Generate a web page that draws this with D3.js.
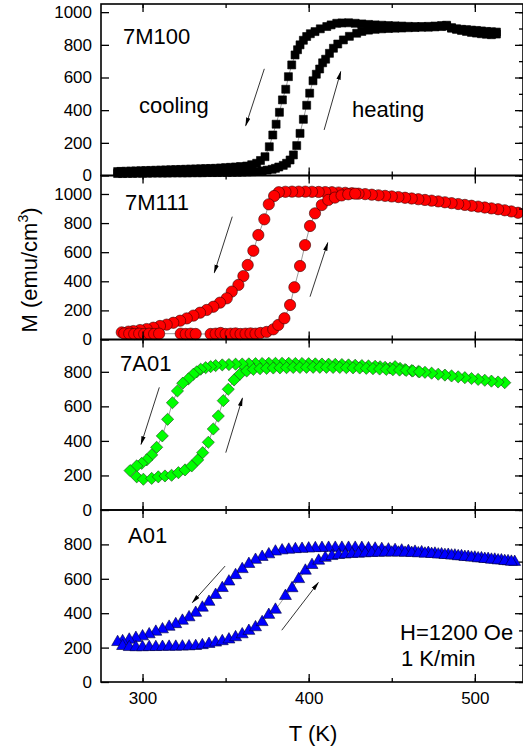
<!DOCTYPE html>
<html>
<head>
<meta charset="utf-8">
<script src="https://cdn.jsdelivr.net/npm/d3@7"></script>
<style>
  body { margin: 0; background: #fff; }
  text { font-family: "Liberation Sans", Arial, sans-serif; fill: #000; }
</style>
</head>
<body>
<div id="viz"></div>
<script>
const width = 523;
const height = 747;

const xTicks = [300, 400, 500];
const xMinor = [300, 350, 400, 450, 500];

// --- 7M100 (T in K, M in emu/cm3) ---
const m100Heat = [[285,12],[288,12],[291,13],[294,13],[297,14],[300,14],[303,14],[306,15],[309,15],[312,15],[315,15],[318,16],[321,16],[324,16],[327,16],[330,17],[333,17],[336,17],[339,18],[342,18],[345,18],[348,19],[351,19],[354,20],[357,20],[360,21],[363,22],[366,23],[369,25],[372,28],[375,33],[378,38],[380,44],[382,52],[384.7,62],[386.7,75],[388.8,95],[390.8,126],[392.8,183],[394.8,258],[396.8,344],[398.8,430],[400.6,504],[402.6,580],[404.6,620],[406.6,652],[408.4,690],[410.2,712],[412.5,748],[414.9,779],[417.5,805],[420.9,830],[424.5,852],[428.9,871],[432,882],[436,890],[440,895],[444,898],[448,900],[452,902],[456,903],[460,905],[464,906],[468,908],[472,908],[476,910],[480,912],[483,915],[486,905],[489,895],[492,888],[495,882],[498,876],[501,872],[504,868],[507,865],[510,862],[513,866]];
const m100Cool = [[513,878],[510,880],[507,882],[504,885],[501,888],[498,890],[495,893],[492,895],[489,898],[486,902],[483,920],[480,918],[476,915],[472,913],[468,912],[464,912],[460,913],[456,915],[452,916],[448,918],[444,920],[440,922],[436,925],[432,928],[428,932],[424,935],[420,934],[416.9,932],[413.5,922],[410.9,912],[407,898],[403.8,881],[401,868],[398.8,851],[396.8,828],[394.8,800],[393.3,770],[391.8,738],[389.8,677],[387.8,605],[386.2,528],[384.2,463],[382.4,387],[380.4,314],[378.4,248],[376.3,176],[373.7,115],[371,92],[368.7,75],[365.7,66],[362.7,58],[359,55],[356,52],[353,50],[350,48],[347,46],[344,44],[341,43],[338,42],[335,41],[332,40],[329,39],[326,38],[323,37],[320,36],[317,35],[314,34],[311,33],[308,32],[305,31],[302,30],[299,29],[296,28],[293,27],[290,26],[287,25],[285,24]];

// --- 7M111 ---
const m111Cool = [[526,871],[522,880],[518,888],[514,895],[510,901],[506,907],[502,913],[498,919],[494,925],[490,931],[486,937],[482,943],[478,949],[474,954],[470,959],[466,964],[462,969],[458,974],[454,979],[450,983],[446,987],[442,991],[438,995],[434,999],[430,1002],[426,1005],[422,1008],[418,1010],[414,1012],[410,1013],[406,1014],[402,1015],[398,1016],[394,1016],[390,1016],[386,1015],[382,1012],[379.2,986],[376,929],[373.3,826],[369.7,718],[366.7,610],[363.3,512],[360.7,436],[357.7,375],[353.7,329],[350.7,283],[346.6,253],[342.6,225],[338.6,203],[334.6,184],[330.6,164],[326.6,145],[322.6,129],[318.5,115],[314.5,102],[310.5,93],[306.5,81],[302.5,72],[298.5,65],[294.5,58],[291.5,54],[287.5,49]];
const m111Heat = [[289,42],[292,40],[295,38],[298,40],[301,38],[304,40],[307,38],[310,40],[323,40],[326,38],[329,40],[332,38],[341,38],[344,40],[347,45],[350,38],[353,40],[356,42],[359,38],[362,40],[365,42],[368,40],[371,45],[374.7,52],[378.7,70],[381.7,100],[385.4,146],[388.8,237],[391.4,359],[394.8,505],[397.8,649],[400.8,780],[403.8,867],[407.9,924],[411.8,959],[415.8,975],[419.8,990],[423.8,998],[428,1002]];

// --- 7A01 ---
const a701Cool = [[518,737],[514,741],[510,746],[506,751],[502,756],[498,761],[494,766],[490,771],[486,776],[482,781],[478,786],[474,792],[470,797],[466,802],[462,807],[458,813],[455,820],[452,830],[449,822],[446,826],[443,829],[440,832],[436,834],[432,836],[428,838],[424,840],[420,842],[416,843],[412,844],[408,845],[404,846],[400,847],[396,848],[392,848],[388,849],[384,849],[380,849],[376,849],[372,848],[368,847],[364,846],[360,845],[356,844],[352,842],[348,840],[344,836],[341,830],[338,824],[335,815],[332.6,800],[330.6,786],[327.6,759],[324.2,734],[321,689],[318,621],[315.1,525],[311.9,429],[308.5,363],[305.5,319],[302.5,290],[299.5,270],[296.5,255],[292.5,228]];
const a701Heat = [[296.5,192],[300.5,178],[305.5,183],[309.5,192],[313.5,197],[317.5,201],[321.6,216],[325.6,232],[329.6,255],[333.2,290],[336.2,332],[339.6,392],[342.6,469],[345.6,544],[348.6,633],[351.6,699],[355.1,753],[358.7,787],[362.7,805],[366.7,814],[370.7,818],[374.7,820],[378.7,822],[382.7,823],[386.7,824],[390.7,825],[394.7,825],[398.7,826],[402.7,826],[406.7,826],[410.7,826],[414.7,825],[418.7,825],[422.7,824],[426.7,823],[430.7,822],[434.7,820],[438.7,818],[442.7,816],[446.7,814],[450.7,812],[454.7,810],[458.7,808],[462.7,805],[466.7,800]];

// --- A01 ---
const a01Cool = [[524,698],[520,702],[516,707],[512,711],[508,715],[504,719],[500,723],[496,727],[492,731],[488,735],[484,739],[480,742],[476,746],[472,750],[468,754],[464,757],[460,761],[456,764],[452,767],[448,770],[444,773],[440,775],[436,777],[432,779],[428,780],[424,780],[420,780],[416,780],[412,780],[408,779],[404,778],[400,776],[396,774],[392,772],[388,769],[384,765],[380,758],[376,742],[372,727],[368,710],[364,686],[360,656],[356,621],[352,584],[348,546],[344,506],[340,466],[336,432],[332,402],[328,376],[324,356],[320,336],[316,321],[312,306],[308,292],[304,277],[300,265],[296,256],[292,246],[288,237],[285,232]];
const a01Heat = [[288,209],[292,203],[296,202],[300,202],[304,203],[308,203],[312,204],[316,205],[320,205],[324,206],[328,207],[332,209],[336,214],[340,221],[344,229],[348,237],[352,247],[356,260],[360,277],[364,297],[368,318],[372,348],[376,390],[380,420],[386,500],[390,545],[394,598],[398,647],[402,680],[406,705],[410,722],[414,732],[418,738],[422,741],[426,744],[430,746],[434,748],[438,750],[442,751],[446,752],[450,752],[454,752],[458,751],[462,750],[466,748],[470,746],[474,744],[478,741],[482,738],[486,735],[490,731],[494,727],[498,723],[502,719],[506,715],[510,711],[514,707],[518,703],[522,699]];

// arrows [T1, M1, T2, M2], head at the second point
const m100Arrows = [[373.3,653,362.1,305],[409.3,279,419.3,636]];
const m111Arrows = [[354.0,844,343.2,459],[400.8,294,411.5,665]];
const a701Arrows = [[310.1,710,299.1,380],[350.1,332,360.1,647]];
const a01Arrows = [[349.7,674,330.0,462],[383.8,301,405.8,578]];

const panels = [
  { name: '7M100', top: 4, bottom: 175.5, max: 1050, yTicks: [0,200,400,600,800,1000], series: [m100Cool, m100Heat], arrows: m100Arrows,
    symbol: d3.symbolSquare, size: 64, fill: '#000', stroke: '#000', rotate: 0, label: [123, 44] },
  { name: '7M111', top: 175.5, bottom: 339.5, max: 1127, yTicks: [0,200,400,600,800,1000], series: [m111Cool, m111Heat], arrows: m111Arrows,
    symbol: d3.symbolCircle, size: 100, fill: '#ff0000', stroke: '#3a0000', rotate: 0, label: [125, 210] },
  { name: '7A01', top: 339.5, bottom: 510, max: 987, yTicks: [0,200,400,600,800], series: [a701Cool, a701Heat], arrows: a701Arrows,
    symbol: d3.symbolSquare, size: 74, fill: '#00ff00', stroke: '#1c4a1c', rotate: 45, label: [120, 371] },
  { name: 'A01', top: 510, bottom: 682, max: 1000, yTicks: [0,200,400,600,800], series: [a01Cool, a01Heat], arrows: a01Arrows,
    symbol: d3.symbolTriangle, size: 62, fill: '#0000ff', stroke: '#00003a', rotate: 0, label: [128, 543] },
];

const x = d3.scaleLinear().domain([275, 529]).range([101, 523]);

const svg = d3.select('#viz')
  .append('svg')
    .attr('width', width)
    .attr('height', height)
    .attr('viewBox', [0, 0, width, height]);

svg.append('defs').append('marker')
    .attr('id', 'head')
    .attr('viewBox', '0 0 10 10')
    .attr('refX', 9).attr('refY', 5)
    .attr('markerWidth', 9).attr('markerHeight', 9)
    .attr('markerUnits', 'userSpaceOnUse')
    .attr('orient', 'auto')
  .append('path')
    .attr('d', 'M0,2.6 L10,5 L0,7.4 Z')
    .attr('fill', '#000');

panels.forEach(p => {
  const y = d3.scaleLinear().domain([0, p.max]).range([p.bottom, p.top]);
  const g = svg.append('g').attr('class', 'panel');

  // thin connecting lines
  const line = d3.line().x(d => x(d[0])).y(d => y(d[1]));
  g.append('g').selectAll('path')
    .data(p.series)
    .join('path')
      .attr('d', line)
      .attr('fill', 'none')
      .attr('stroke', '#555')
      .attr('stroke-width', 0.6);

  // markers
  const sym = d3.symbol(p.symbol, p.size);
  p.series.forEach(s => {
    g.append('g').selectAll('path')
      .data(s)
      .join('path')
        .attr('d', sym)
        .attr('transform', d => `translate(${x(d[0])},${y(d[1])}) rotate(${p.rotate})`)
        .attr('fill', p.fill)
        .attr('stroke', p.stroke)
        .attr('stroke-width', 0.6);
  });

  // arrows
  g.append('g').selectAll('line')
    .data(p.arrows)
    .join('line')
      .attr('x1', d => x(d[0])).attr('y1', d => y(d[1]))
      .attr('x2', d => x(d[2])).attr('y2', d => y(d[3]))
      .attr('stroke', '#000')
      .attr('stroke-width', 0.8)
      .attr('marker-end', 'url(#head)');

  // axes, ticks inward on all four sides
  const yMinor = d3.range(0, p.max, 100);
  const left = g.append('g').attr('transform', `translate(${x.range()[0]},0)`);
  left.call(d3.axisLeft(y).tickValues(yMinor).tickSize(-4).tickFormat(''));
  left.call(d3.axisLeft(y).tickValues(p.yTicks).tickSize(-8).tickPadding(9).tickFormat(d3.format('d')));
  const right = g.append('g').attr('transform', `translate(${x.range()[1]},0)`);
  right.call(d3.axisRight(y).tickValues(yMinor).tickSize(-4).tickFormat(''));
  right.append('g').call(d3.axisRight(y).tickValues(p.yTicks).tickSize(-8).tickFormat(''));
  const top = g.append('g').attr('transform', `translate(0,${p.top})`);
  top.call(d3.axisTop(x).tickValues(xMinor).tickSize(-4).tickFormat(''));
  top.append('g').call(d3.axisTop(x).tickValues(xTicks).tickSize(-8).tickFormat(''));
  const bottom = g.append('g').attr('transform', `translate(0,${p.bottom})`);
  bottom.call(d3.axisBottom(x).tickValues(xMinor).tickSize(-4).tickFormat(''));
  bottom.append('g').call(d3.axisBottom(x).tickValues(xTicks).tickSize(-8).tickPadding(10)
    .tickFormat(p.name === 'A01' ? d3.format('d') : ''));

  g.selectAll('.domain').remove();
  g.selectAll('.tick line').attr('stroke', '#000').attr('stroke-width', 1.3);
  g.selectAll('.tick text').attr('font-size', 17).attr('fill', '#000')
    .attr('font-family', '"Liberation Sans", Arial, sans-serif');

  g.append('rect')
    .attr('x', x.range()[0]).attr('y', p.top)
    .attr('width', x.range()[1] - x.range()[0]).attr('height', p.bottom - p.top)
    .attr('fill', 'none').attr('stroke', '#000').attr('stroke-width', 1.6);

  g.append('text')
    .attr('x', p.label[0]).attr('y', p.label[1])
    .attr('font-size', 22)
    .text(p.name);
});

// annotations
const notes = [
  ['cooling', 139, 113], ['heating', 352, 117],
  ['H=1200 Oe', 400, 640], ['1 K/min', 401, 666],
];
svg.append('g').selectAll('text')
  .data(notes)
  .join('text')
    .attr('x', d => d[1]).attr('y', d => d[2])
    .attr('font-size', 22)
    .text(d => d[0]);

svg.append('text')
  .attr('x', 313).attr('y', 741)
  .attr('text-anchor', 'middle')
  .attr('font-size', 22)
  .text('T (K)');

const yTitle = svg.append('text')
  .attr('transform', 'translate(37,270) rotate(-90)')
  .attr('text-anchor', 'middle')
  .attr('font-size', 22);
yTitle.append('tspan').text('M (emu/cm');
yTitle.append('tspan').attr('font-size', 14).attr('dy', -9).text('3');
yTitle.append('tspan').attr('dy', 9).text(')');
</script>
</body>
</html>
